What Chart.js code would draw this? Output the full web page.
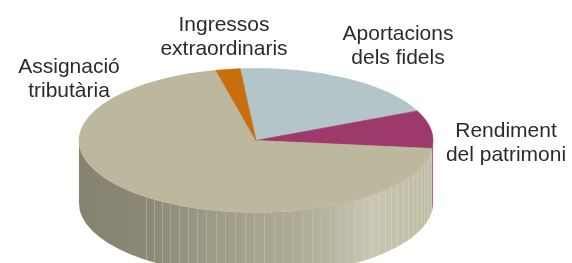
<!DOCTYPE html>
<html>
<head>
<meta charset="utf-8">
<script src="https://cdn.jsdelivr.net/npm/chart.js@4/dist/chart.umd.min.js"></script>
<style>
  html, body { margin: 0; padding: 0; background: #fff; }
  canvas { display: block; }
</style>
</head>
<body>
<canvas id="pie" width="572" height="263"></canvas>
<script>
// slices, clockwise from the top
const categories = ["Aportacions dels fidels", "Rendiment del patrimoni", "Assignació tributària", "Ingressos extraordinaris"];
const shares = [19.7, 8.5, 69.6, 2.2];
const labelLines = [["Aportacions", "dels fidels"], ["Rendiment", "del patrimoni"], ["Assignació", "tributària"], ["Ingressos", "extraordinaris"]];

const colors = ["#b3c5c9", "#9e396b", "#bbb89e", "#c86e0c"];
const labelPos = [[398, 40], [506, 137], [69, 73], [224, 31]];

const TILT = 72 / 177;   // squash of the top face
const DEPTH = 63;        // wall height in px
const LINE_H = 23.5;

// parts of an arc that face the viewer (canvas angles 0..PI)
function frontParts(a, b) {
    const out = [];
    for (let k = -1; k <= 1; k++) {
        const lo = Math.max(a, k * 2 * Math.PI);
        const hi = Math.min(b, k * 2 * Math.PI + Math.PI);
        if (hi > lo) out.push([lo, hi]);
    }
    return out;
}

const tiltPlugin = {
    id: "tilt",
    beforeDatasetsDraw(chart) {
        const ctx = chart.ctx;
        const arcs = chart.getDatasetMeta(0).data;
        const cx = arcs[0].x, cy = arcs[0].y, r = arcs[0].outerRadius, ry = r * TILT;

        const shade = ctx.createLinearGradient(cx - r, 0, cx + r, 0);
        shade.addColorStop(0, "rgba(0,0,0,0.29)");
        shade.addColorStop(0.2, "rgba(0,0,0,0.25)");
        shade.addColorStop(0.5, "rgba(0,0,0,0.1)");
        shade.addColorStop(0.82, "rgba(255,255,255,0.2)");
        shade.addColorStop(1, "rgba(255,255,255,0.05)");

        arcs.forEach((arc, i) => {
            frontParts(arc.startAngle, arc.endAngle).forEach(([a, b]) => {
                ctx.beginPath();
                ctx.ellipse(cx, cy, r, ry, 0, a, b);
                ctx.ellipse(cx, cy + DEPTH, r, ry, 0, b, a, true);
                ctx.closePath();
                ctx.fillStyle = colors[i];
                ctx.fill();
                ctx.fillStyle = shade;
                ctx.fill();
            });
        });

        // faint facet lines on the wall
        ctx.save();
        ctx.lineWidth = 1;
        for (let t = 0.04; t < 2.25; t += 0.055) {
            const x = Math.round(cx + r * Math.cos(t)) + 0.5;
            const y = cy + ry * Math.sin(t);
            ctx.strokeStyle = "rgba(255,255,255," + (0.12 + 0.12 * ((t * 37) % 1)) + ")";
            ctx.beginPath();
            ctx.moveTo(x, y + 1);
            ctx.lineTo(x, y + DEPTH);
            ctx.stroke();
        }
        ctx.restore();

        ctx.save();
        ctx.translate(cx, cy);
        ctx.scale(1, TILT);
        ctx.translate(-cx, -cy);
    },
    afterDatasetsDraw(chart) {
        chart.ctx.restore();
    }
};

const labelPlugin = {
    id: "sliceLabels",
    afterDraw(chart) {
        const ctx = chart.ctx;
        ctx.save();
        ctx.font = "21px 'Liberation Sans', Arial, sans-serif";
        ctx.fillStyle = "#2b2b2b";
        ctx.textAlign = "center";
        ctx.textBaseline = "alphabetic";
        labelLines.forEach((lines, i) => {
            lines.forEach((s, j) => {
                ctx.fillText(s, labelPos[i][0], labelPos[i][1] + j * LINE_H);
            });
        });
        ctx.restore();
    }
};

new Chart(document.getElementById("pie"), {
    type: "pie",
    data: {
        labels: categories,
        datasets: [{
            data: shares,
            backgroundColor: colors,
            borderColor: colors,
            borderWidth: 1,
            clip: false
        }]
    },
    options: {
        responsive: false,
        animation: false,
        events: [],
        rotation: -5.16,
        radius: 177,
        layout: { padding: { left: 0, right: 60, top: 18, bottom: 0 } },
        plugins: { legend: { display: false }, tooltip: { enabled: false } }
    },
    plugins: [tiltPlugin, labelPlugin]
});
</script>
</body>
</html>
